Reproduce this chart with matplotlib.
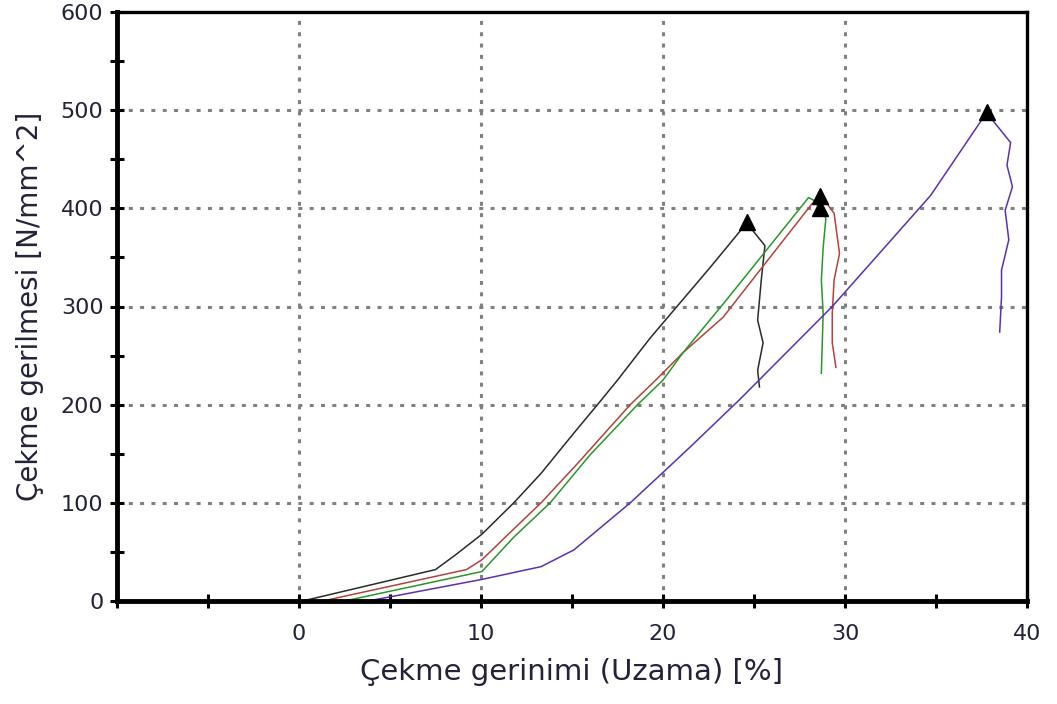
from matplotlib import pyplot as plt
from matplotlib.ticker import FixedLocator
import numpy as np

# curves: strain [%], stress [N/mm^2]
black_x = [0.2, 7.5, 8.6, 10.05, 11.8, 13.3, 15.1, 16.4, 17.5, 19.3, 22.6, 24.6,
           25.6, 25.4, 25.2, 25.5, 25.2, 25.3]
black_y = [0, 32, 47, 68, 100, 130, 171, 200, 225, 268, 340, 385,
           362, 327, 286, 263, 235, 218]

red_x = [1.3, 9.2, 10.05, 11.5, 13.3, 15.3, 18.2, 19.6, 21.1, 23.3, 28.2,
         29.0, 29.4, 29.7, 29.4, 29.3, 29.3, 29.5]
red_y = [0, 32, 42, 68, 100, 140, 200, 225, 253, 289, 405,
         405, 395, 354, 327, 293, 263, 238]

green_x = [2.5, 10.05, 11.8, 13.8, 16.0, 18.6, 20.0, 21.1, 23.5, 28.0,
           28.3, 28.95, 28.8, 28.7, 28.8, 28.7]
green_y = [0, 30, 65, 100, 149, 200, 225, 253, 307, 411,
           408, 390, 360, 327, 293, 232]

purple_x = [3.8, 10.05, 13.3, 15.1, 18.2, 20.0, 21.5, 24.2, 29.3, 34.7, 37.8,
            38.1, 39.1, 38.9, 39.2, 38.8, 39.0, 38.6, 38.6, 38.5]
purple_y = [0, 22, 35, 52, 100, 131, 157, 205, 300, 413, 498,
            490, 467, 444, 422, 398, 368, 337, 310, 274]

peak_x = [24.6, 28.6, 28.6, 37.8]
peak_y = [386, 413, 400, 498]

x_major = [0, 10, 20, 30, 40]
x_minor = [-10, -5, 5, 15, 25, 35]
y_major = [0, 100, 200, 300, 400, 500, 600]
y_minor = [50, 150, 250, 350, 450, 550]

txt_col = '#22223a'

fig = plt.figure(figsize=(10.57, 7.04), dpi=100)
ax = fig.add_axes((117/1057, 103/704, 910/1057, 589/704))

ax.plot(black_x, black_y, color='#2a2a2a', lw=1.1)
ax.plot(red_x, red_y, color='#b0443c', lw=1.1)
ax.plot(green_x, green_y, color='#2a962a', lw=1.1)
ax.plot(purple_x, purple_y, color='#5a30b0', lw=1.1)
ax.plot(peak_x, peak_y, '^', color='black', ms=11, zorder=5)

ax.set_xlim(-10, 40)
ax.set_ylim(0, 600)

ax.xaxis.set_major_locator(FixedLocator(x_major))
ax.xaxis.set_minor_locator(FixedLocator(x_minor))
ax.yaxis.set_major_locator(FixedLocator(y_major))
ax.yaxis.set_minor_locator(FixedLocator(y_minor))

ax.tick_params(which='both', direction='inout', length=9.5, width=2.2,
               color='black', top=False, right=False)
ax.tick_params(which='major', labelsize=16, labelcolor=txt_col)
ax.tick_params(axis='x', which='major', pad=12)
ax.tick_params(axis='y', which='major', pad=5)

for v in x_major[:-1]:
    ax.axvline(v, color='#808080', lw=2.2, ls=(0, (1.3, 2.4)), zorder=0)
for v in y_major[1:-1]:
    ax.axhline(v, color='#808080', lw=2.2, ls=(0, (1.3, 2.4)), zorder=0)

for s in ['left', 'bottom']:
    ax.spines[s].set_linewidth(3.5)
for s in ['top', 'right']:
    ax.spines[s].set_linewidth(2.4)

ax.set_xlabel('Çekme gerinimi (Uzama) [%]', fontsize=21, color=txt_col, labelpad=10)
ax.set_ylabel('Çekme gerilmesi [N/mm^2]', fontsize=20, color=txt_col, labelpad=12)

fig.savefig('out.png', dpi=100)
